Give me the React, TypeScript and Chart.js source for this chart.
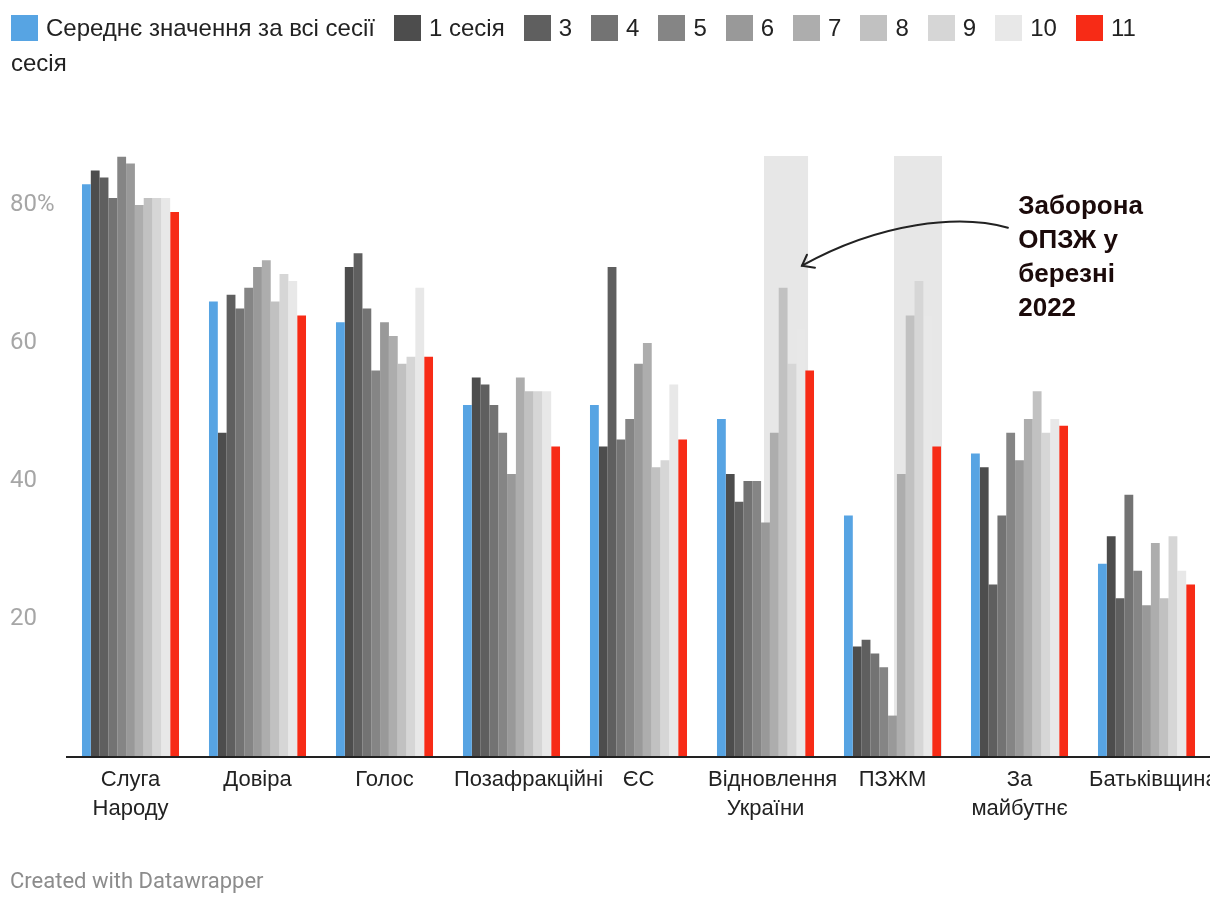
import React, { useEffect, useRef } from "react";
import { Chart, registerables } from "chart.js";

Chart.register(...registerables);

const categories = [
  ["Слуга", "Народу"],
  ["Довіра"],
  ["Голос"],
  ["Позафракційні"],
  ["ЄС"],
  ["Відновлення", "України"],
  ["ПЗЖМ"],
  ["За", "майбутнє"],
  ["Батьківщина"],
];

const seriesLabels = [
  "Середнє значення за всі сесії",
  "1 сесія",
  "3",
  "4",
  "5",
  "6",
  "7",
  "8",
  "9",
  "10",
  "11 сесія",
];

const seriesColors = [
  "#57a4e3",
  "#4d4d4d",
  "#5f5f5f",
  "#737373",
  "#858585",
  "#999999",
  "#adadad",
  "#c1c1c1",
  "#d6d6d6",
  "#e8e8e8",
  "#f72b16",
];

const avgAll = [83, 66, 63, 51, 51, 49, 35, 44, 28];
const session1 = [85, 47, 71, 55, 45, 41, 16, 42, 32];
const session3 = [84, 67, 73, 54, 71, 37, 17, 25, 23];
const session4 = [81, 65, 65, 51, 46, 40, 15, 35, 38];
const session5 = [87, 68, 56, 47, 49, 40, 13, 47, 27];
const session6 = [86, 71, 63, 41, 57, 34, 6, 43, 22];
const session7 = [80, 72, 61, 55, 60, 47, 41, 49, 31];
const session8 = [81, 66, 57, 53, 42, 68, 64, 53, 23];
const session9 = [81, 70, 58, 53, 43, 57, 69, 47, 32];
const session10 = [81, 69, 68, 53, 54, 62, 64, 49, 27];
const session11 = [79, 64, 58, 45, 46, 56, 45, 48, 25];

const seriesValues = [
  avgAll, session1, session3, session4, session5, session6,
  session7, session8, session9, session10, session11,
];

const yTickValues = [20, 40, 60, 80];
const yTickLabels = ["20", "40", "60", "80%"];

// highlighted ranges (category index units, value units)
const highlightRanges = [
  { from: 4.988, to: 5.335, top: 87.1 },
  { from: 6.012, to: 6.39, top: 87.1 },
];

const annotationLines = ["Заборона", "ОПЗЖ у", "березні", "2022"];
const annotationAnchor = { x: 6.99, y: 79.7 };
// arrow as cubic bezier in (category index, value) units
const arrowPath = [
  { x: 6.909, y: 76.7 },
  { x: 6.531, y: 78.7 },
  { x: 5.902, y: 77.5 },
  { x: 5.287, y: 71.2 },
];

const LABEL_FONT = '"Liberation Sans", Arial, sans-serif';

const overlayPlugin = {
  id: "overlay",
  beforeDatasetsDraw(chart: any) {
    const { ctx, scales } = chart;
    const xs = scales.x;
    const ys = scales.y;
    ctx.save();
    ctx.fillStyle = "#e7e7e7";
    for (const r of highlightRanges) {
      const x0 = xs.getPixelForValue(r.from);
      const x1 = xs.getPixelForValue(r.to);
      const y0 = ys.getPixelForValue(r.top);
      const y1 = ys.getPixelForValue(0);
      ctx.fillRect(x0, y0, x1 - x0, y1 - y0);
    }
    ctx.restore();
  },
  afterDraw(chart: any) {
    const { ctx, scales, chartArea } = chart;
    const xs = scales.x;
    const ys = scales.y;
    ctx.save();
    // baseline
    const y0 = ys.getPixelForValue(0);
    ctx.strokeStyle = "#222222";
    ctx.lineWidth = 2;
    ctx.beginPath();
    ctx.moveTo(chartArea.left - 1, y0);
    ctx.lineTo(chartArea.right, y0);
    ctx.stroke();

    // y tick labels
    ctx.font = '24px Roboto, sans-serif';
    ctx.fillStyle = "#a6a6a6";
    ctx.textAlign = "left";
    ctx.textBaseline = "middle";
    yTickValues.forEach((v, i) => {
      ctx.fillText(yTickLabels[i], 10, ys.getPixelForValue(v));
    });

    // x labels (box of fixed width; overflowing text starts at box left)
    ctx.save();
    ctx.beginPath();
    ctx.rect(0, y0 + 2, chartArea.right, 200);
    ctx.clip();
    ctx.font = "22px " + LABEL_FONT;
    ctx.fillStyle = "#222222";
    const step = xs.getPixelForValue(1) - xs.getPixelForValue(0);
    const boxHalf = step * 0.453;
    categories.forEach((lines, i) => {
      const cx = xs.getPixelForValue(i);
      lines.forEach((t, j) => {
        const w = ctx.measureText(t).width;
        const ty = y0 + 23 + j * 29;
        if (w > boxHalf * 2) {
          ctx.textAlign = "left";
          ctx.fillText(t, cx - boxHalf, ty);
        } else {
          ctx.textAlign = "center";
          ctx.fillText(t, cx, ty);
        }
      });
    });
    ctx.restore();

    // annotation text
    ctx.font = "bold 26px " + LABEL_FONT;
    ctx.fillStyle = "#1b0a0a";
    ctx.textAlign = "left";
    ctx.textBaseline = "middle";
    const ax = xs.getPixelForValue(annotationAnchor.x);
    const ay = ys.getPixelForValue(annotationAnchor.y);
    annotationLines.forEach((t, j) => {
      ctx.fillText(t, ax, ay + j * 34);
    });

    // arrow
    const p = arrowPath.map((q) => ({
      x: xs.getPixelForValue(q.x),
      y: ys.getPixelForValue(q.y),
    }));
    ctx.strokeStyle = "#222222";
    ctx.lineWidth = 2;
    ctx.lineCap = "round";
    ctx.beginPath();
    ctx.moveTo(p[0].x, p[0].y);
    ctx.bezierCurveTo(p[1].x, p[1].y, p[2].x, p[2].y, p[3].x, p[3].y);
    ctx.stroke();
    const tip = p[3];
    ctx.beginPath();
    ctx.moveTo(tip.x + 5, tip.y - 11);
    ctx.lineTo(tip.x, tip.y);
    ctx.lineTo(tip.x + 13, tip.y + 2);
    ctx.stroke();
    ctx.restore();
  },
};

export default function App() {
  const canvasRef = useRef<HTMLCanvasElement | null>(null);

  useEffect(() => {
    if (!canvasRef.current) return;
    const chart = new Chart(canvasRef.current, {
      type: "bar",
      data: {
        labels: categories.map((c) => c.join(" ")),
        datasets: seriesValues.map((vals, i) => ({
          label: seriesLabels[i],
          data: vals,
          backgroundColor: seriesColors[i],
          borderWidth: 0,
          categoryPercentage: 0.764,
          barPercentage: 1.0,
        })),
      },
      options: {
        animation: false,
        responsive: false,
        devicePixelRatio: 1,
        layout: { padding: { left: 67, right: 10, top: 136, bottom: 149 } },
        scales: {
          x: { display: false, offset: true },
          y: { display: false, min: 0, max: 90 },
        },
        plugins: {
          legend: { display: false },
          tooltip: { enabled: false },
        },
      },
      plugins: [overlayPlugin],
    });
    return () => chart.destroy();
  }, []);

  return (
    <div style={{ position: "absolute", left: 0, top: 0, width: 1220, height: 906, background: "#fff", overflow: "hidden" }}>
      <canvas ref={canvasRef} width={1220} height={906} style={{ position: "absolute", left: 0, top: 0 }} />
      <div
        style={{
          position: "absolute",
          left: 11,
          top: 10,
          width: 1150,
          font: "24px " + LABEL_FONT,
          color: "#222",
          lineHeight: "35px",
        }}
      >
        {seriesLabels.map((l, i) => (
          <span key={i}>
            <span
              style={{
                display: "inline-block",
                width: 27,
                height: 26,
                background: seriesColors[i],
                verticalAlign: "-5px",
                marginRight: 8,
              }}
            />
            {l}
            <span style={{ display: "inline-block", width: 19 }} />
          </span>
        ))}
      </div>
      <div
        style={{
          position: "absolute",
          left: 10,
          top: 868,
          font: "22px Roboto, sans-serif",
          color: "#8c8c8c",
        }}
      >
        Created with Datawrapper
      </div>
    </div>
  );
}
